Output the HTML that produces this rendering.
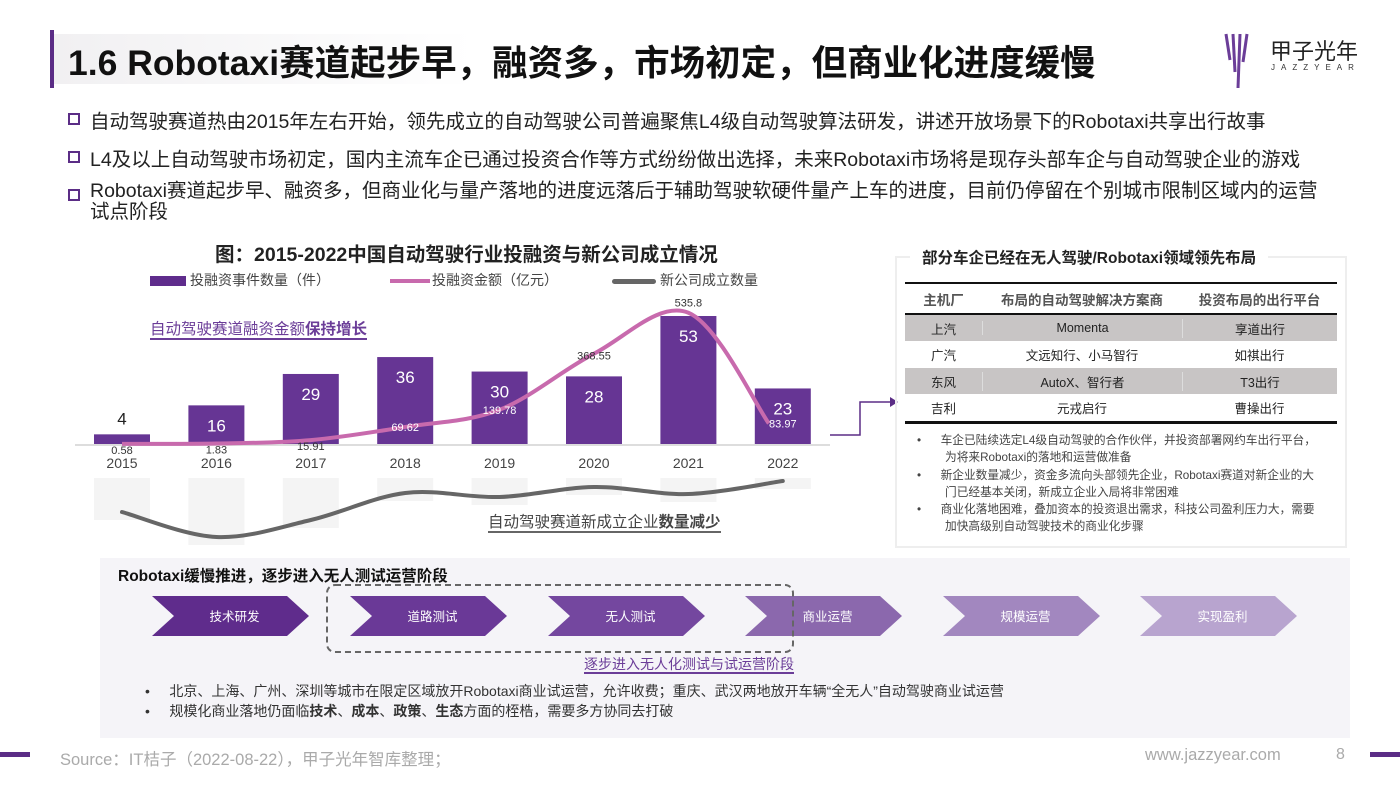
<!DOCTYPE html>
<html><head><meta charset="utf-8">
<style>
*{margin:0;padding:0;box-sizing:border-box}
body{width:1400px;height:788px;background:#fff;position:relative;overflow:hidden;font-family:"Liberation Sans","Noto Sans CJK SC",sans-serif;color:#222}
.abs{position:absolute;white-space:nowrap}
.bul{font-size:19.5px;color:#222}
.sq{position:absolute;width:12px;height:12px;border:2px solid #5b2d86}
</style></head><body>
<div class="abs" style="left:50px;top:30px;width:4px;height:58px;background:#5b2d86"></div>
<div class="abs" style="left:54px;top:34px;width:420px;height:50px;background:linear-gradient(90deg,#f1f0f2,#fff)"></div>
<div class="abs" style="left:68px;top:35px;font-size:35.5px;font-weight:bold;color:#111">1.6 Robotaxi赛道起步早，融资多，市场初定，但商业化进度缓慢</div>
<svg class="abs" style="left:1222px;top:32px" width="30" height="58"><g stroke="#6b3d98" stroke-width="3"><line x1="4" y1="2" x2="8" y2="28"/><line x1="11" y1="2" x2="13" y2="40"/><line x1="18" y1="2" x2="16" y2="56"/><line x1="25" y1="2" x2="21" y2="30"/></g></svg>
<div class="abs" style="left:1270px;top:34px;font-size:22px;color:#222">甲子光年</div>
<div class="abs" style="left:1271px;top:63px;font-size:8px;letter-spacing:6px;color:#333">JAZZYEAR</div>

<div class="sq" style="left:68px;top:113px"></div>
<div class="abs bul" style="left:90px;top:105px">自动驾驶赛道热由2015年左右开始，领先成立的自动驾驶公司普遍聚焦L4级自动驾驶算法研发，讲述开放场景下的Robotaxi共享出行故事</div>
<div class="sq" style="left:68px;top:151px"></div>
<div class="abs bul" style="left:90px;top:143px">L4及以上自动驾驶市场初定，国内主流车企已通过投资合作等方式纷纷做出选择，未来Robotaxi市场将是现存头部车企与自动驾驶企业的游戏</div>
<div class="sq" style="left:68px;top:189px"></div>
<div class="abs bul" style="left:90px;top:181px;line-height:21px">Robotaxi赛道起步早、融资多，但商业化与量产落地的进度远落后于辅助驾驶软硬件量产上车的进度，目前仍停留在个别城市限制区域内的运营<br>试点阶段</div>

<div class="abs" style="left:215px;top:238px;font-size:19.5px;font-weight:bold;color:#222">图：2015-2022中国自动驾驶行业投融资与新公司成立情况</div>
<div class="abs" style="left:150px;top:270px;font-size:14px;color:#444"><span style="display:inline-block;width:36px;height:10px;background:#5f2c8c;vertical-align:middle;margin-right:4px"></span>投融资事件数量（件）</div>
<div class="abs" style="left:390px;top:270px;font-size:14px;color:#444"><span style="display:inline-block;width:40px;height:4px;background:#c86aad;vertical-align:middle;margin-right:2px"></span>投融资金额（亿元）</div>
<div class="abs" style="left:612px;top:270px;font-size:14px;color:#444"><span style="display:inline-block;width:44px;height:5px;border-radius:3px;background:#666;vertical-align:middle;margin-right:4px"></span>新公司成立数量</div>

<svg id="chart" class="abs" style="left:0;top:0" width="880" height="550"></svg>
<div class="abs" style="left:150px;top:321px;font-size:15.5px;color:#6b3d98;border-bottom:2px solid #6b3d98;line-height:17px">自动驾驶赛道融资金额<b>保持增长</b></div>
<div class="abs" style="left:488px;top:514px;font-size:15.5px;color:#444;border-bottom:2px solid #666;line-height:17px">自动驾驶赛道新成立企业<b>数量减少</b></div>

<svg class="abs" style="left:828px;top:395px" width="70" height="45"><polyline points="2,40 32,40 32,7 62,7" fill="none" stroke="#5b2d86" stroke-width="1.5"/><polygon points="62,2 70,7 62,12" fill="#5b2d86"/></svg>

<div class="abs" style="left:895px;top:256px;width:452px;height:292px;border:2px solid #eee"></div>
<div class="abs" style="left:910px;top:246px;font-size:15.5px;font-weight:bold;background:#fff;padding:0 12px">部分车企已经在无人驾驶/Robotaxi领域领先布局</div>
<div class="abs" style="left:905px;top:282px;width:432px;font-size:12.5px;color:#222">
<div style="height:2px;background:#111"></div>
<div style="display:flex;height:29px;align-items:center;font-weight:bold;color:#555;font-size:13.5px"><span style="width:77px;text-align:center">主机厂</span><span style="width:200px;text-align:center">布局的自动驾驶解决方案商</span><span style="flex:1;text-align:center">投资布局的出行平台</span></div>
<div style="height:2px;background:#111"></div>
<div style="display:flex;height:26px;align-items:center;background:#c8c5c5"><span style="width:77px;text-align:center">上汽</span><span style="width:200px;text-align:center;border-left:1px solid #ddd">Momenta</span><span style="flex:1;text-align:center;border-left:1px solid #ddd">享道出行</span></div>
<div style="display:flex;height:27px;align-items:center"><span style="width:77px;text-align:center">广汽</span><span style="width:200px;text-align:center">文远知行、小马智行</span><span style="flex:1;text-align:center">如祺出行</span></div>
<div style="display:flex;height:26px;align-items:center;background:#c8c5c5"><span style="width:77px;text-align:center">东风</span><span style="width:200px;text-align:center;border-left:1px solid #ddd">AutoX、智行者</span><span style="flex:1;text-align:center;border-left:1px solid #ddd">T3出行</span></div>
<div style="display:flex;height:27px;align-items:center"><span style="width:77px;text-align:center">吉利</span><span style="width:200px;text-align:center">元戎启行</span><span style="flex:1;text-align:center">曹操出行</span></div>
<div style="height:3px;background:#111"></div>
</div>
<div class="abs" style="left:917px;top:432px;font-size:11.7px;color:#444;line-height:17.3px">
<div>•&nbsp;&nbsp;&nbsp;&nbsp;&nbsp;&nbsp;车企已陆续选定L4级自动驾驶的合作伙伴，并投资部署网约车出行平台，</div>
<div style="padding-left:28px">为将来Robotaxi的落地和运营做准备</div>
<div>•&nbsp;&nbsp;&nbsp;&nbsp;&nbsp;&nbsp;新企业数量减少，资金多流向头部领先企业，Robotaxi赛道对新企业的大</div>
<div style="padding-left:28px">门已经基本关闭，新成立企业入局将非常困难</div>
<div>•&nbsp;&nbsp;&nbsp;&nbsp;&nbsp;&nbsp;商业化落地困难，叠加资本的投资退出需求，科技公司盈利压力大，需要</div>
<div style="padding-left:28px">加快高级别自动驾驶技术的商业化步骤</div>
</div>

<div class="abs" style="left:100px;top:558px;width:1250px;height:180px;background:#f5f4f8"></div>
<div class="abs" style="left:118px;top:564px;font-size:15.5px;font-weight:bold;color:#111">Robotaxi缓慢推进，逐步进入无人测试运营阶段</div>
<svg class="abs" style="left:0;top:0" width="1400" height="700" id="chev"></svg>
<div class="abs" style="left:584px;top:656px;font-size:14px;color:#6b3d98;border-bottom:2px solid #6b3d98;line-height:16px">逐步进入无人化测试与试运营阶段</div>
<div class="abs" style="left:145px;top:681px;font-size:14px;color:#333;line-height:20px">
<div>•&nbsp;&nbsp;&nbsp;&nbsp;&nbsp;北京、上海、广州、深圳等城市在限定区域放开Robotaxi商业试运营，允许收费；重庆、武汉两地放开车辆“全无人”自动驾驶商业试运营</div>
<div>•&nbsp;&nbsp;&nbsp;&nbsp;&nbsp;规模化商业落地仍面临<b>技术</b>、<b>成本</b>、<b>政策</b>、<b>生态</b>方面的桎梏，需要多方协同去打破</div>
</div>

<div class="abs" style="left:0;top:752px;width:30px;height:5px;background:#5b2d86"></div>
<div class="abs" style="left:60px;top:746px;font-size:16.5px;color:#aaa">Source：IT桔子（2022-08-22），甲子光年智库整理；</div>
<div class="abs" style="left:1145px;top:746px;font-size:16.5px;color:#aaa">www.jazzyear.com</div>
<div class="abs" style="left:1336px;top:746px;font-size:16px;color:#aaa">8</div>
<div class="abs" style="left:1370px;top:752px;width:30px;height:5px;background:#5b2d86"></div>

<script>
const years=['2015','2016','2017','2018','2019','2020','2021','2022'];
const dealCounts=[4,16,29,36,30,28,53,23];
const amounts=[0.58,1.83,15.91,69.62,139.78,368.55,535.8,83.97];
const amountLabels=['0.58','1.83','15.91','69.62','139.78','368.55','535.8','83.97'];
const newCompanies=[48,23,40,67,63,73,66,79];
const NS='http://www.w3.org/2000/svg';
const svg=document.getElementById('chart');
const x0=122,step=94.4,base=444,bw=56;
const xS=i=>x0+i*step;
const yBar=v=>base-v*2.415;
const yAmt=v=>base-v*0.245;
const yNew=v=>560-v;
function mk(t,a){const e=document.createElementNS(NS,t);for(const k in a)e.setAttribute(k,a[k]);svg.appendChild(e);return e;}
function spline(pts){let d='M'+pts[0][0]+','+pts[0][1];for(let i=0;i<pts.length-1;i++){const p0=pts[i-1]||pts[i],p1=pts[i],p2=pts[i+1],p3=pts[i+2]||p2;const t=6;d+=' C'+(p1[0]+(p2[0]-p0[0])/t)+','+(p1[1]+(p2[1]-p0[1])/t)+' '+(p2[0]-(p3[0]-p1[0])/t)+','+(p2[1]-(p3[1]-p1[1])/t)+' '+p2[0]+','+p2[1];}return d;}
newCompanies.forEach((v,i)=>{const r=mk('rect',{x:xS(i)-bw/2,y:478,width:bw,height:Math.max(0,yNew(v)-478+8),fill:'#f4f4f4'});

});
mk('line',{x1:75,x2:830,y1:base+1,y2:base+1,stroke:'#ddd','stroke-width':2});
dealCounts.forEach((v,i)=>{const r=mk('rect',{x:xS(i)-bw/2,y:yBar(v),width:bw,height:base-yBar(v),fill:'#663594'});


const big=v>10;const t=mk('text',{x:xS(i),y:big?yBar(v)+26:yBar(v)-10,'text-anchor':'middle','font-size':17,fill:big?'#fff':'#222'});t.textContent=v;


const yl=mk('text',{x:xS(i),y:468,'text-anchor':'middle','font-size':14,fill:'#444'});yl.textContent=years[i];

});
const ap=amounts.map((v,i)=>[xS(i)+(i==7?-14:0),yAmt(v)]);
const pl=mk('path',{d:spline(ap),fill:'none',stroke:'#c86aad','stroke-width':4});


amounts.forEach((v,i)=>{const inBar=i==3||i==4||i==7;let y=i<3?yAmt(v)+10:(i==6?yAmt(v)-6:(i==5?yAmt(v)+6:yAmt(v)+4));const t=mk('text',{x:xS(i),y:y,'text-anchor':'middle','font-size':11,fill:inBar?'#fff':'#333'});t.textContent=amountLabels[i];

});
const np=newCompanies.map((v,i)=>[xS(i),yNew(v)]);
const gl=mk('path',{d:spline(np),fill:'none',stroke:'#666','stroke-width':4,'stroke-linecap':'round'});


const cs=document.getElementById('chev');
const stages=['技术研发','道路测试','无人测试','商业运营','规模运营','实现盈利'];
const stageX=[152,350,548,745,943,1140];
const cols=['#5f2c8c','#6a3997','#74479f','#8b68ad','#a287bf','#b8a4cf'];
stages.forEach((s,i)=>{const x=stageX[i],w=157,y=596,h=40;const p=document.createElementNS(NS,'polygon');
p.setAttribute('points',`${x},${y} ${x+w-22},${y} ${x+w},${y+h/2} ${x+w-22},${y+h} ${x},${y+h} ${x+22},${y+h/2}`);p.setAttribute('fill',cols[i]);


cs.appendChild(p);const t=document.createElementNS(NS,'text');t.setAttribute('x',x+w/2+4);t.setAttribute('y',621);t.setAttribute('text-anchor','middle');t.setAttribute('font-size',12.5);t.setAttribute('fill','#fff');t.textContent=s;


cs.appendChild(t);});
const db=document.createElementNS(NS,'rect');
db.setAttribute('x',327);db.setAttribute('y',585);db.setAttribute('width',466);db.setAttribute('height',67);db.setAttribute('rx',8);db.setAttribute('fill','none');db.setAttribute('stroke','#666');db.setAttribute('stroke-width',2);db.setAttribute('stroke-dasharray','6,4');


cs.appendChild(db);
</script>
</body></html>
